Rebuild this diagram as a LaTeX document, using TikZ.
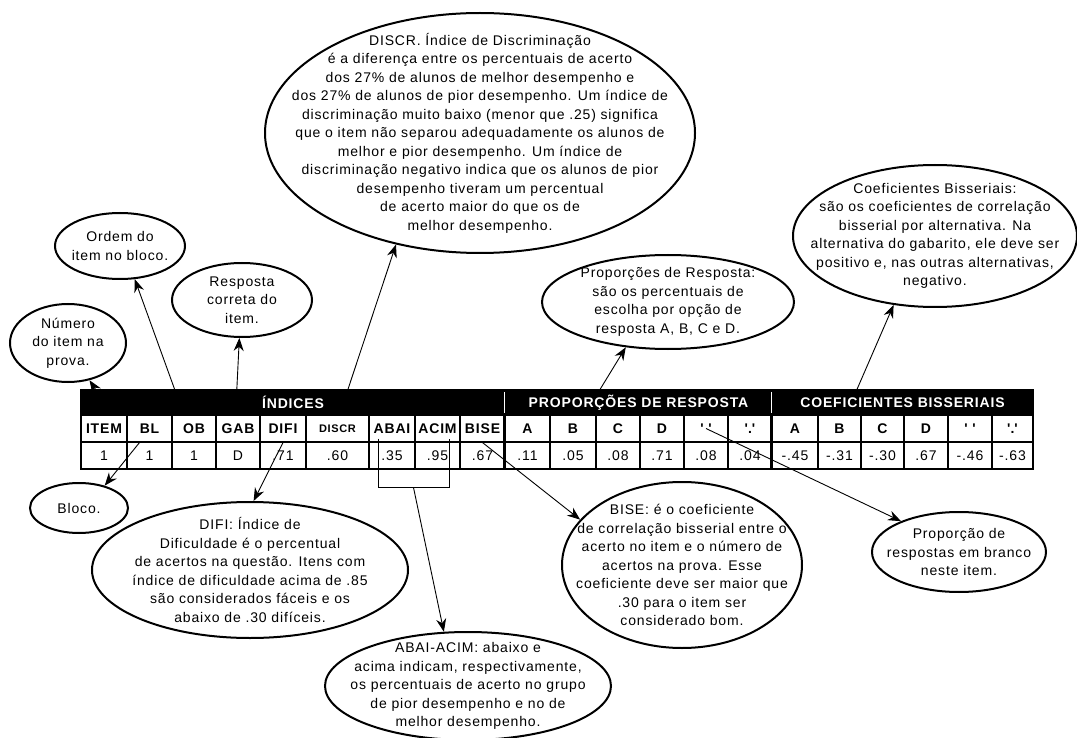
\documentclass[tikz,border=0pt]{standalone}
\usepackage{fontspec}
\setmainfont{Liberation Sans}[LetterSpace=6]
\usetikzlibrary{shapes.geometric}
\usetikzlibrary{arrows.meta}

\tikzset{
  balao/.style={ellipse, draw, line width=2pt, inner sep=0pt},
  texto/.style={align=center, font=\fontsize{14}{18.5}\selectfont},
  seta/.style={-{Stealth[length=13pt,width=10pt]}, line width=0.9pt},
  celula/.style={rectangle, draw, line width=1.1pt, minimum height=27pt, inner sep=0pt, font=\fontsize{14}{14}\selectfont},
  faixa/.style={rectangle, fill=black, text=white, minimum height=25pt, inner sep=0pt, font=\fontsize{14}{14}\selectfont\bfseries},
}

\begin{document}
\begin{tikzpicture}[x=1pt, y=-1pt]
\useasboundingbox (0,0) rectangle (1077,738);

% faixa preta
\node[faixa, minimum width=424pt] (indices) at (293,402.5) {ÍNDICES};
\node[faixa, minimum width=267pt] (proporcoes) at (638.5,402.5) {PROPORÇÕES DE RESPOSTA};
\node[faixa, minimum width=261pt] (coeficientes) at (902.5,402.5) {COEFICIENTES BISSERIAIS};
\draw[white, line width=1.2pt] ([yshift=-2pt]proporcoes.north west) -- ([yshift=2pt]proporcoes.south west);
\draw[white, line width=1.2pt] ([yshift=-2pt]coeficientes.north west) -- ([yshift=2pt]coeficientes.south west);

% celulas
\foreach \xa/\xb/\cab/\val [count=\i] in {
  81/127/ITEM/1, 127/172/BL/1, 172/216/OB/1, 216/260/GAB/D, 260/306/DIFI/.71,
  306/369/{\fontsize{11}{11}\selectfont DISCR}/.60, 369/415/ABAI/.35, 415/460/ACIM/.95, 460/505/BISE/.67,
  505/550/A/.11, 550/596/B/.05, 596/640/C/.08, 640/684/D/.71,
  684/728/{\textquotesingle\ \textquotesingle}/.08, 728/772/{\textquotesingle.\textquotesingle}/.04,
  772/818/A/-.45, 818/861/B/-.31, 861/904/C/-.30, 904/948/D/.67,
  948/992/{\textquotesingle\ \textquotesingle}/-.46, 992/1033/{\textquotesingle.\textquotesingle}/-.63}{
  \node[celula, font=\fontsize{14}{14}\selectfont\bfseries, minimum width={(\xb-\xa)*1pt}] (h\i) at ({(\xa+\xb)/2},428.5) {\cab};
  \node[celula, minimum width={(\xb-\xa)*1pt}] (v\i) at ({(\xa+\xb)/2},455.5) {\val};
}
\draw[line width=2pt] (h10.north west) -- (v10.south west);
\draw[line width=2pt] (h16.north west) -- (v16.south west);
\draw[line width=1.6pt] (indices.north west) rectangle (v21.south east);

% baloes
\node[balao, minimum width=430pt, minimum height=240pt, label={[texto]center:{DISCR. Índice de Discriminação\\
  é a diferença entre os percentuais de acerto\\
  dos 27\% de alunos de melhor desempenho e\\
  dos 27\% de alunos de pior desempenho. Um índice de\\
  discriminação muito baixo (menor que .25) significa\\
  que o item não separou adequadamente os alunos de\\
  melhor e pior desempenho. Um índice de\\
  discriminação negativo indica que os alunos de pior\\
  desempenho tiveram um percentual\\
  de acerto maior do que os de\\
  melhor desempenho.}}] (discr) at (480,133) {};
\node[balao, minimum width=130pt, minimum height=66pt, label={[texto]center:{Ordem do\\item no bloco.}}] (ordem) at (120,246) {};
\node[balao, minimum width=140pt, minimum height=74pt, label={[texto]center:{Resposta\\correta do\\item.}}] (resposta) at (242,300) {};
\node[balao, minimum width=116pt, minimum height=78pt, label={[texto]center:{Número\\do item na\\prova.}}] (numero) at (68,343) {};
\node[balao, minimum width=252pt, minimum height=94pt, label={[texto]center:{Proporções de Resposta:\\
  são os percentuais de\\escolha por opção de\\resposta A, B, C e D.}}] (prop) at (668,302) {};
\node[balao, minimum width=284pt, minimum height=142pt, label={[texto]center:{Coeficientes Bisseriais:\\
  são os coeficientes de correlação\\bisserial por alternativa. Na\\
  alternativa do gabarito, ele deve ser\\positivo e, nas outras alternativas,\\negativo.}}] (coef) at (935,236) {};
\node[balao, minimum width=98pt, minimum height=50pt, label={[texto]center:{Bloco.}}] (bloco) at (79,508) {};
\node[balao, minimum width=316pt, minimum height=136pt, label={[texto]center:{DIFI: Índice de\\
  Dificuldade é o percentual\\de acertos na questão. Itens com\\
  índice de dificuldade acima de .85\\são considerados fáceis e os\\abaixo de .30 difíceis.}}] (difi) at (250,570) {};
\node[balao, minimum width=286pt, minimum height=108pt, label={[texto]center:{ABAI-ACIM: abaixo e\\
  acima indicam, respectivamente,\\os percentuais de acerto no grupo\\
  de pior desempenho e no de\\melhor desempenho.}}] (abai) at (468,686) {};
\node[balao, minimum width=240pt, minimum height=166pt, label={[texto]center:{BISE: é o coeficiente\\
  de correlação bisserial entre o\\acerto no item e o número de\\acertos na prova. Esse\\
  coeficiente deve ser maior que\\.30 para o item ser\\considerado bom.}}] (bise) at (682,565) {};
\node[balao, minimum width=174pt, minimum height=80pt, label={[texto]center:{Proporção de\\respostas em branco\\neste item.}}] (branco) at (959,552) {};

% setas
\draw[seta] ([xshift=15pt]indices.north west) -- (numero.-60);
\draw[seta] ([xshift=94pt]indices.north west) -- (ordem.-66);
\draw[seta] ([xshift=156pt]indices.north west) -- (resposta.-94);
\draw[seta] ([xshift=267pt]indices.north west) -- (discr.-127);
\draw[seta] ([xshift=95pt]proporcoes.north west) -- (prop.-133);
\draw[seta] ([xshift=85pt]coeficientes.north west) -- (coef.-121);
\draw[seta] ([xshift=-10pt]h2.south) -- (bloco.41);
\draw[seta] (h5.south) -- (difi.87);
\draw[seta] (h9.south) -- (bise.156);
\draw[seta] (h14.center) -- (branco.152);

% chave ABAI/ACIM
\draw[line width=1pt] ([xshift=-14pt,yshift=4pt]h7.south) -- ++(0,49) -| coordinate[pos=0.25] (meio) ([xshift=11.5pt,yshift=4pt]h8.south);
\draw[seta] (meio) -- (abai.114);

\end{tikzpicture}
\end{document}
